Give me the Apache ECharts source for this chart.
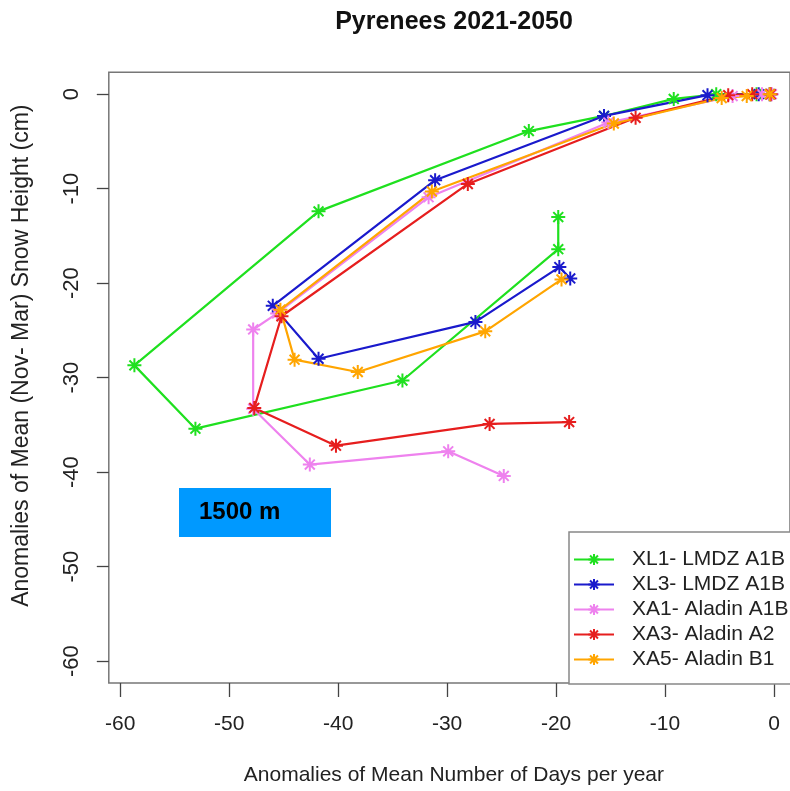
<!DOCTYPE html>
<html><head><meta charset="utf-8">
<script src="https://cdn.jsdelivr.net/npm/echarts@6/dist/echarts.min.js"></script>
<style>html,body{margin:0;padding:0;background:#fff}#c{width:790px;height:791px}</style>
</head><body><div id="c"></div>
<script>
// ---- data (x = anomaly of mean number of days per year, y = anomaly of mean snow height, cm) ----
const seriesNames = ['XL1- LMDZ A1B', 'XL3- LMDZ A1B', 'XA1- Aladin A1B', 'XA3- Aladin A2', 'XA5- Aladin B1'];
const xl1 = [[-0.3, 0], [-1.6, 0], [-5.3, 0], [-9.2, -0.5], [-15.6, -2.3], [-22.5, -3.9], [-41.8, -12.4], [-58.7, -28.7], [-53.1, -35.4], [-34.1, -30.3], [-19.8, -16.4], [-19.8, -13.0]];
const xl3 = [[-0.4, 0], [-1.4, 0], [-6.1, -0.1], [-15.6, -2.3], [-31.1, -9.1], [-46.0, -22.4], [-41.8, -28.0], [-27.4, -24.1], [-19.7, -18.3], [-18.7, -19.5]];
const xa1 = [[-0.2, 0], [-1.1, 0], [-3.8, -0.2], [-15.2, -3.0], [-31.7, -10.9], [-45.6, -23.2], [-47.8, -24.9], [-47.8, -33.3], [-42.6, -39.2], [-29.9, -37.8], [-24.8, -40.4]];
const xa3 = [[-0.3, 0], [-2.0, 0], [-4.2, -0.1], [-12.7, -2.5], [-28.1, -9.5], [-45.2, -23.5], [-47.7, -33.2], [-40.2, -37.2], [-26.1, -34.9], [-18.8, -34.7]];
const xa5 = [[-0.4, 0], [-2.5, -0.2], [-4.8, -0.4], [-14.7, -3.1], [-31.4, -10.3], [-45.3, -22.8], [-44.0, -28.1], [-38.2, -29.4], [-26.5, -25.1], [-19.5, -19.6]];
const xTicks = [-60, -50, -40, -30, -20, -10, 0];
const yTicks = [0, -10, -20, -30, -40, -50, -60];
const colors = ['#1fe01f', '#1a1acc', '#ee82ee', '#e61e1e', '#ffa500'];
const allData = [xl1, xl3, xa1, xa3, xa5];

const FONT = 'Liberation Sans, Arial, sans-serif';
const star = 'path://M0,-1L0,1M-1,0L1,0M-0.707,-0.707L0.707,0.707M-0.707,0.707L0.707,-0.707';

const chart = echarts.init(document.getElementById('c'), null, {renderer: 'canvas'});
const option = {
  backgroundColor: '#fff',
  animation: false,
  title: {
    text: 'Pyrenees 2021-2050',
    left: 449, top: 5, textAlign: 'center',
    textStyle: {fontFamily: FONT, fontSize: 25, fontWeight: 'bold', color: '#111'}
  },
  grid: {
    left: 108.8, top: 72.3, right: 0, height: 612,
    show: true, borderColor: '#777', borderWidth: 1.5, backgroundColor: 'transparent'
  },
  xAxis: {
    type: 'value', min: -61.05, max: 1.47,
    name: 'Anomalies of Mean Number of Days per year',
    nameLocation: 'middle', nameGap: 82,
    nameTextStyle: {fontFamily: FONT, fontSize: 21, color: '#222', padding: [0, 0, 0, 9]},
    axisLine: {show: false, onZero: false},
    splitLine: {show: false},
    axisTick: {show: true, customValues: xTicks, length: 14, lineStyle: {color: '#444', width: 1.3}},
    axisLabel: {customValues: xTicks, margin: 31, fontFamily: FONT, fontSize: 21, color: '#222'}
  },
  yAxis: {
    type: 'value', min: -62.32, max: 2.32,
    name: 'Anomalies of Mean (Nov- Mar) Snow Height (cm)',
    nameLocation: 'middle', nameGap: 76,
    nameTextStyle: {fontFamily: FONT, fontSize: 23, color: '#222', padding: [0, 0, 0, 44]},
    axisLine: {show: false, onZero: false},
    splitLine: {show: false},
    axisTick: {show: true, customValues: yTicks, length: 12, lineStyle: {color: '#444', width: 1.3}},
    axisLabel: {customValues: yTicks, rotate: 90, margin: 26, fontFamily: FONT, fontSize: 22, color: '#222'}
  },
  legend: {
    orient: 'vertical', left: 569, top: 532,
    padding: [17, 14, 14, 4],
    itemWidth: 40, itemHeight: 14, itemGap: 4,
    borderColor: '#888', borderWidth: 1.5, backgroundColor: '#fff',
    textStyle: {fontFamily: FONT, fontSize: 21, color: '#222', padding: [0, 0, 0, 13]},
    data: seriesNames
  },
  series: allData.map((d, i) => ({
    name: seriesNames[i],
    type: 'line',
    data: d,
    symbol: star,
    symbolSize: 14,
    lineStyle: {color: colors[i], width: 2.2},
    itemStyle: {color: colors[i], borderColor: colors[i], borderWidth: 2},
    emphasis: {disabled: true}
  })),
  graphic: [
    {type: 'rect', left: 179, top: 488, shape: {width: 152, height: 49}, style: {fill: '#0099ff'}, z: 100},
    {type: 'text', left: 199, top: 500, style: {text: '1500 m', fontFamily: FONT, fontSize: 24, fontWeight: 'bold', fill: '#000'}, z: 101}
  ]
};
chart.setOption(option);
</script>
</body></html>
